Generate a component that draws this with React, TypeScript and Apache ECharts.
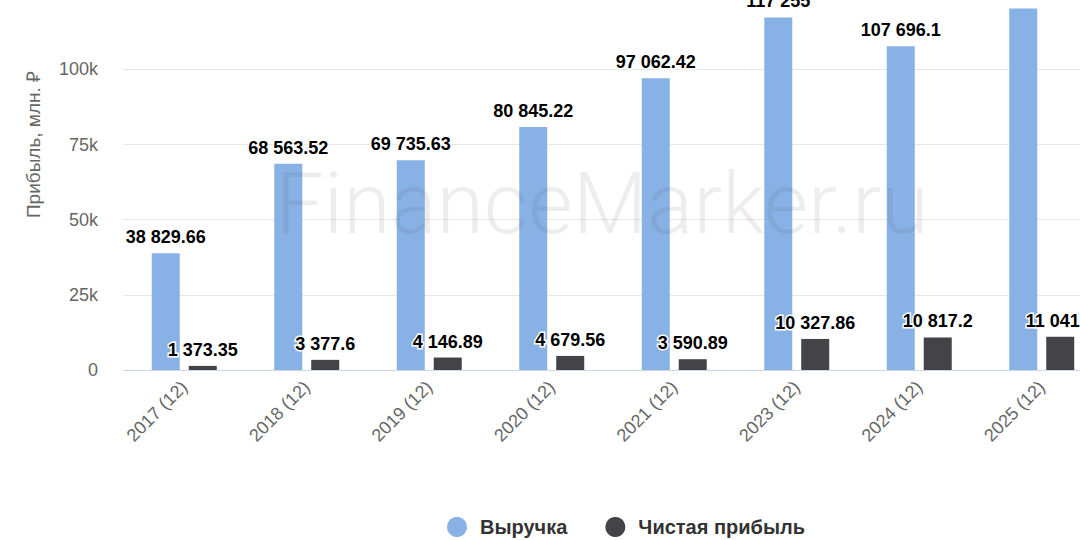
import React, { useEffect, useRef } from "react";
import * as echarts from "echarts";

const categories = ["2017 (12)", "2018 (12)", "2019 (12)", "2020 (12)", "2021 (12)", "2023 (12)", "2024 (12)", "2025 (12)"];
const revenue = [38829.66, 68563.52, 69735.63, 80845.22, 97062.42, 117255, 107696.1, 120250];
const profit = [1373.35, 3377.6, 4146.89, 4679.56, 3590.89, 10327.86, 10817.2, 11041.5];
const seriesNames = ["Выручка", "Чистая прибыль"];
const yTitle = "Прибыль, млн. ₽";
const watermark = "FinanceMarker.ru";

const fmt = (v: number) => {
  const [i, d] = String(v).split(".");
  const ii = i.replace(/\B(?=(\d{3})+(?!\d))/g, " ");
  return d ? ii + "." + d : ii;
};

const OFFSET_Y = 100;

export default function App() {
  const ref = useRef<HTMLDivElement>(null);
  useEffect(() => {
    if (!ref.current) return;
    const chart = echarts.init(ref.current, null, { renderer: "svg" });
    const labelStyle = {
      show: true,
      position: "top" as const,
      distance: 7,
      color: "#000",
      fontSize: 18,
      fontWeight: "bold" as const,
      fontFamily: "Liberation Sans, Arial, sans-serif",
      textBorderColor: "#fff",
      textBorderWidth: 3,
      formatter: (p: any) => fmt(p.value),
    };
    chart.setOption({
      animation: false,
      textStyle: { fontFamily: "Liberation Sans, Arial, sans-serif" },
      grid: { left: 123, right: 7, top: 19, bottom: 170, containLabel: false },
      legend: {
        left: 442,
        top: 612,
        icon: "circle",
        itemWidth: 20,
        itemHeight: 20,
        itemGap: 38,
        textStyle: { color: "#333", fontSize: 20, fontWeight: "bold", padding: [0, 0, 0, 8] },
        data: seriesNames,
      },
      xAxis: {
        type: "category",
        data: categories,
        axisLine: { lineStyle: { color: "#ccd6eb" } },
        axisTick: { show: false },
        axisLabel: { rotate: 45, color: "#666", fontSize: 18, margin: 14, interval: 0 },
      },
      yAxis: {
        type: "value",
        min: 0,
        max: 150000,
        interval: 25000,
        name: yTitle,
        nameLocation: "middle",
        nameRotate: 90,
        nameGap: 80,
        nameTextStyle: { color: "#666", fontSize: 19 },
        axisLine: { show: false },
        axisTick: { show: false },
        splitLine: { lineStyle: { color: "#e6e6e6" } },
        axisLabel: {
          color: "#666",
          fontSize: 18,
          margin: 25,
          formatter: (v: number) => (v === 0 ? "0" : v / 1000 + "k"),
        },
      },
      series: [
        {
          name: seriesNames[0],
          type: "bar",
          data: revenue,
          barWidth: 28,
          barGap: "32%",
          itemStyle: { color: "#88b2e6" },
          label: labelStyle,
        },
        {
          name: seriesNames[1],
          type: "bar",
          data: profit,
          barWidth: 28,
          itemStyle: { color: "#434348" },
          label: labelStyle,
        },
      ],
      graphic: [
        {
          type: "text",
          x: 602,
          y: 203 + OFFSET_Y,
          silent: true,
          z: 100,
          style: {
            text: watermark,
            fontSize: 86,
            fontFamily: "Roboto, sans-serif",
            fontWeight: 300,
            fill: "rgba(60,60,60,0.09)",
            textAlign: "center",
            textVerticalAlign: "middle",
          },
        },
      ],
    });
    return () => chart.dispose();
  }, []);
  return (
    <div style={{ position: "fixed", left: 0, top: 0, width: 1080, height: 540, overflow: "hidden", background: "#fff" }}>
      <div ref={ref} style={{ position: "absolute", left: 0, top: -OFFSET_Y, width: 1110, height: 640 }} />
    </div>
  );
}
